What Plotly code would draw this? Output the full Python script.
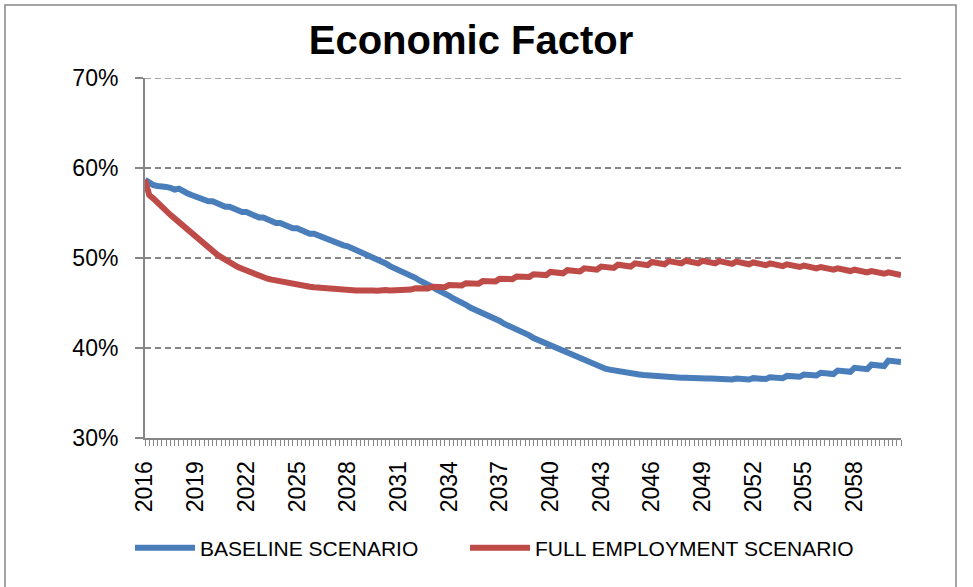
import plotly.graph_objects as go

# ---- data (quarterly, 2016Q1 .. 2060Q4) ----
years = list(range(2016, 2061))
quarters_per_year = 4

baseline = [
    58.7, 58.3, 58.1, 58.0,   # 2016
    58.0, 57.9, 57.8, 57.6,   # 2017
    57.7, 57.4, 57.2, 57.0,   # 2018
    56.8, 56.7, 56.5, 56.3,   # 2019
    56.3, 56.1, 55.9, 55.7,   # 2020
    55.7, 55.5, 55.3, 55.1,   # 2021
    55.1, 54.9, 54.7, 54.5,   # 2022
    54.5, 54.3, 54.1, 53.9,   # 2023
    53.9, 53.7, 53.5, 53.3,   # 2024
    53.3, 53.1, 52.9, 52.7,   # 2025
    52.7, 52.5, 52.3, 52.1,   # 2026
    52.0, 51.8, 51.6, 51.4,   # 2027
    51.3, 51.1, 50.9, 50.6,   # 2028
    50.5, 50.3, 50.0, 49.8,   # 2029
    49.6, 49.4, 49.1, 48.9,   # 2030
    48.7, 48.5, 48.2, 48.0,   # 2031
    47.8, 47.5, 47.3, 47.0,   # 2032
    46.8, 46.5, 46.3, 46.0,   # 2033
    45.8, 45.5, 45.3, 45.0,   # 2034
    44.8, 44.5, 44.3, 44.0,   # 2035
    43.9, 43.7, 43.4, 43.2,   # 2036
    43.0, 42.7, 42.5, 42.3,   # 2037
    42.0, 41.8, 41.6, 41.4,   # 2038
    41.1, 40.9, 40.7, 40.4,   # 2039
    40.2, 40.0, 39.8, 39.6,   # 2040
    39.4, 39.2, 39.0, 38.8,   # 2041
    38.6, 38.4, 38.2, 38.0,   # 2042
    37.9, 37.7, 37.6, 37.5,   # 2043
    37.4, 37.3, 37.2, 37.15,  # 2044
    37.1, 37.05, 37.0, 36.95, # 2045
    36.9, 36.85, 36.8, 36.8,  # 2046
    36.8, 36.75, 36.7, 36.7,  # 2047
    36.7, 36.65, 36.65, 36.6, # 2048
    36.65, 36.6, 36.6, 36.55, # 2049
    36.6, 36.55, 36.5, 36.5,  # 2050
    36.6, 36.55, 36.55, 36.5, # 2051
    36.65, 36.6, 36.6, 36.55, # 2052
    36.75, 36.7, 36.7, 36.65, # 2053
    36.9, 36.85, 36.8, 36.8,  # 2054
    37.05, 37.0, 36.95, 36.95,# 2055
    37.25, 37.2, 37.15, 37.1, # 2056
    37.5, 37.45, 37.4, 37.35, # 2057
    37.8, 37.75, 37.7, 37.65, # 2058
    38.15, 38.1, 38.05, 38.0, # 2059
    38.6, 38.6, 38.55, 38.45, # 2060
]

full_employment = [
    58.7, 57.0, 56.6, 56.1,   # 2016
    55.6, 55.2, 54.8, 54.4,   # 2017
    54.0, 53.5, 53.0, 52.6,   # 2018
    52.2, 51.8, 51.4, 51.0,   # 2019
    50.7, 50.4, 50.1, 49.8,   # 2020
    49.5, 49.2, 49.0, 48.8,   # 2021
    48.6, 48.4, 48.2, 48.0,   # 2022
    47.8, 47.7, 47.6, 47.5,   # 2023
    47.35, 47.25, 47.15, 47.05, # 2024
    46.95, 46.9, 46.85, 46.8, # 2025
    46.75, 46.7, 46.65, 46.6, # 2026
    46.55, 46.5, 46.5, 46.45, # 2027
    46.5, 46.45, 46.4, 46.4,  # 2028
    46.45, 46.4, 46.4, 46.35, # 2029
    46.45, 46.45, 46.4, 46.4, # 2030
    46.55, 46.55, 46.5, 46.5, # 2031
    46.65, 46.65, 46.6, 46.6, # 2032
    46.8, 46.8, 46.75, 46.75, # 2033
    47.0, 47.0, 46.95, 46.95, # 2034
    47.2, 47.2, 47.15, 47.15, # 2035
    47.45, 47.45, 47.4, 47.4, # 2036
    47.7, 47.7, 47.65, 47.65, # 2037
    47.95, 47.95, 47.9, 47.9, # 2038
    48.2, 48.2, 48.15, 48.1,  # 2039
    48.45, 48.4, 48.35, 48.3, # 2040
    48.65, 48.6, 48.55, 48.5, # 2041
    48.85, 48.8, 48.75, 48.7, # 2042
    49.05, 49.0, 48.95, 48.9, # 2043
    49.25, 49.2, 49.1, 49.05, # 2044
    49.4, 49.35, 49.25, 49.2, # 2045
    49.55, 49.5, 49.4, 49.3,  # 2046
    49.65, 49.55, 49.45, 49.4,# 2047
    49.7, 49.6, 49.5, 49.4,   # 2048
    49.7, 49.6, 49.5, 49.4,   # 2049
    49.65, 49.55, 49.45, 49.35, # 2050
    49.6, 49.5, 49.4, 49.3,   # 2051
    49.5, 49.4, 49.3, 49.2,   # 2052
    49.4, 49.3, 49.2, 49.1,   # 2053
    49.3, 49.2, 49.1, 49.0,   # 2054
    49.15, 49.05, 48.95, 48.85, # 2055
    49.0, 48.9, 48.8, 48.7,   # 2056
    48.85, 48.75, 48.65, 48.55, # 2057
    48.7, 48.6, 48.5, 48.4,   # 2058
    48.55, 48.45, 48.35, 48.25, # 2059
    48.4, 48.3, 48.2, 48.1,   # 2060
]

tick_years = list(range(2016, 2059, 3))
tick_labels = [str(y) for y in tick_years]
series_names = ["BASELINE SCENARIO", "FULL EMPLOYMENT SCENARIO"]

# x position of each quarter (year + quarter fraction)
x_vals = [y + q / quarters_per_year for y in years for q in range(quarters_per_year)]

BLUE = "#4A7EBB"
RED = "#BE4B48"
GRAY = "#868686"
FONT = "Liberation Sans, Arial, sans-serif"

W, H = 973, 587
L, R, T, B = 145, 72, 78, 149
PW, PH = W - L - R, H - T - B

fig = go.Figure()
fig.add_trace(go.Scatter(x=x_vals, y=baseline, mode="lines", name=series_names[0],
                         line=dict(color=BLUE, width=6), legend="legend"))
fig.add_trace(go.Scatter(x=x_vals, y=full_employment, mode="lines", name=series_names[1],
                         line=dict(color=RED, width=6), legend="legend2"))

leg_y = (H - B - 548) / PH
leg_common = dict(orientation="h", xanchor="left", y=leg_y, yanchor="middle",
                  font=dict(family=FONT, size=21, color="black"),
                  itemwidth=60, bgcolor="rgba(0,0,0,0)")

fig.update_layout(
    width=W, height=H,
    margin=dict(l=L, r=R, t=T, b=B),
    paper_bgcolor="white", plot_bgcolor="white",
    font=dict(family=FONT, color="black", size=22),
    title=dict(text="<b>Economic Factor</b>", x=471 / W, xref="container", xanchor="center",
               y=1 - 40 / H, yref="container", yanchor="middle",
               font=dict(family=FONT, size=40, color="black")),
    showlegend=True,
    legend=dict(x=(130 - L) / PW, **leg_common),
    legend2=dict(x=(465 - L) / PW, **leg_common),
    xaxis=dict(range=[2016, 2060.75], tickmode="array", tickvals=tick_years, ticktext=tick_labels,
               tickangle=-90, ticks="outside", ticklen=6, tickcolor=GRAY, tickwidth=1,
               minor=dict(dtick=0.25, tick0=2016, ticks="outside", ticklen=6, tickcolor=GRAY, tickwidth=1,
                          showgrid=False),
               showline=True, linecolor=GRAY, linewidth=2, showgrid=False, zeroline=False,
               tickfont=dict(family=FONT, size=23), ticklabelstandoff=6),
    yaxis=dict(range=[30, 70], dtick=10, tick0=30, ticksuffix="%", ticks="outside", ticklen=8,
               tickcolor=GRAY, tickwidth=1.5,
               showline=True, linecolor=GRAY, linewidth=2,
               showgrid=True, gridcolor=GRAY, gridwidth=1.5, griddash="6px,4px", zeroline=False,
               tickfont=dict(family=FONT, size=23), ticklabelstandoff=12),
)

# top (70%) gridline, which Plotly omits at the range edge
fig.add_shape(type="line", xref="paper", yref="y", x0=0, x1=1, y0=70, y1=70,
              line=dict(color=GRAY, width=1.5, dash="6px,4px"), layer="below")

# chart-area frame
fig.add_shape(type="rect", xref="paper", yref="paper",
              x0=(5 - L) / PW, x1=(956 - L) / PW,
              y0=(H - B - 600) / PH, y1=(H - B - 5) / PH,
              line=dict(color=GRAY, width=1.5), fillcolor="rgba(0,0,0,0)", layer="below")

fig.write_html("out.html")
